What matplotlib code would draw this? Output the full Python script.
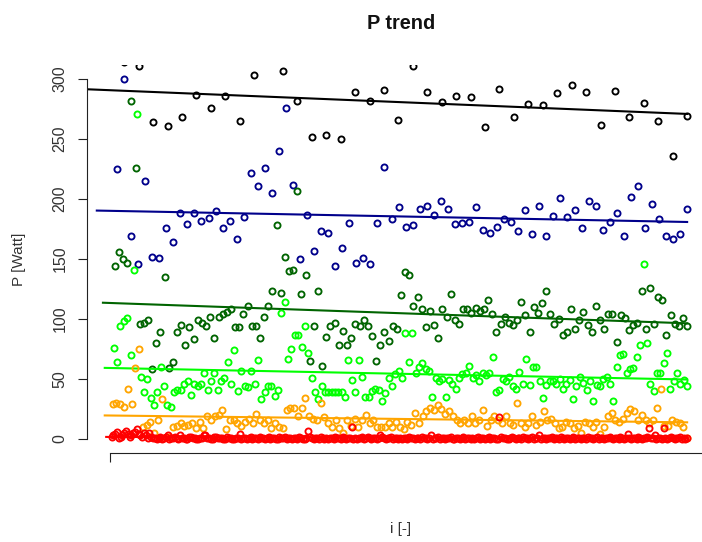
import numpy as np
import matplotlib
matplotlib.use("Agg")
import matplotlib.pyplot as plt

plt.rcParams['font.family'] = ['Liberation Sans', 'DejaVu Sans']

title = "P trend"
xlabel = "i [-]"
ylabel = "P [Watt]"
yticks = [0, 50, 100, 150, 200, 250, 300]

black_vals = [316, 314, 311, 264, 261, 268, 287, 276, 286, 265, 303, 318, 307, 282,
              252, 253, 250, 289, 282, 291, 266, 311, 289, 281, 286, 285, 260, 292,
              268, 279, 278, 288, 295, 289, 262, 290, 268, 280, 265, 236, 269]

navy_vals = [225, 300, 169, 146, 215, 152, 151, 176, 164, 188, 179, 188, 182, 184,
             190, 176, 182, 167, 185, 222, 211, 226, 205, 240, 276, 212, 150, 187,
             157, 173, 172, 144, 159, 180, 147, 151, 146, 180, 227, 183, 193, 177,
             178, 192, 194, 187, 198, 192, 179, 180, 181, 193, 174, 172, 177, 183,
             181, 173, 191, 171, 194, 169, 186, 201, 185, 191, 176, 198, 194, 174,
             181, 188, 169, 202, 211, 176, 196, 183, 169, 167, 171, 192]

dgreen_vals = [144, 156, 150, 147, 282, 226, 96, 97, 99, 58, 80, 89, 135, 59, 64, 89,
               95, 78, 93, 83, 99, 97, 94, 102, 84, 102, 104, 106, 108, 93, 93, 104,
               111, 94, 94, 84, 102, 111, 123, 178, 122, 152, 140, 141, 207, 121, 137,
               65, 94, 123, 61, 85, 94, 97, 78, 90, 78, 84, 96, 94, 99, 94, 86, 65, 78,
               89, 82, 94, 92, 120, 139, 137, 111, 118, 108, 93, 107, 95, 84, 108, 102,
               121, 99, 96, 108, 108, 105, 109, 107, 108, 116, 104, 89, 96, 102, 97, 95,
               99, 114, 103, 89, 110, 105, 113, 123, 104, 96, 100, 87, 89, 108, 92, 99,
               106, 95, 89, 111, 99, 92, 104, 104, 81, 103, 101, 91, 95, 97, 123, 92,
               126, 96, 118, 116, 87, 103, 96, 94, 101, 94]

lgreen_vals = [76, 64, 94, 98, 101, 70, 141, 271, 52, 39, 50, 34, 28, 39, 60, 44, 28,
               27, 39, 41, 41, 46, 48, 37, 46, 44, 46, 55, 41, 48, 55, 41, 48, 51, 64,
               46, 74, 40, 57, 44, 43, 57, 46, 66, 33, 39, 44, 44, 36, 41, 105, 114, 67,
               75, 87, 87, 77, 94, 72, 51, 39, 33, 44, 39, 39, 39, 39, 39, 39, 35, 66,
               49, 39, 66, 52, 35, 35, 40, 42, 41, 32, 38, 51, 44, 54, 57, 51, 88, 64,
               88, 55, 60, 63, 58, 57, 35, 51, 48, 50, 35, 49, 46, 42, 51, 54, 55, 61,
               51, 53, 48, 55, 53, 55, 68, 39, 41, 50, 48, 52, 44, 42, 56, 46, 67, 45,
               60, 60, 48, 34, 45, 48, 48, 46, 50, 42, 46, 49, 33, 44, 52, 47, 41, 48,
               32, 45, 44, 50, 52, 46, 32, 60, 70, 71, 55, 58, 59, 68, 78, 146, 80, 46,
               40, 55, 55, 63, 72, 42, 48, 55, 46, 49, 44]

orange_vals = [29, 30, 29, 27, 42, 29, 59, 75, 10, 12, 14, 5, 16, 33, 2, 2, 10, 11, 13,
               11, 12, 13, 9, 14, 9, 19, 16, 19, 20, 24, 8, 16, 16, 13, 11, 14, 17, 13,
               21, 16, 13, 16, 9, 13, 10, 9, 24, 26, 26, 19, 26, 34, 19, 17, 16, 30, 18,
               13, 10, 16, 9, 5, 16, 11, 17, 10, 16, 20, 13, 16, 10, 10, 10, 13, 10, 14,
               10, 8, 14, 12, 22, 13, 19, 23, 26, 24, 28, 25, 21, 23, 19, 16, 13, 16, 13,
               19, 13, 16, 24, 11, 16, 19, 16, 13, 19, 13, 12, 30, 13, 10, 13, 19, 12,
               14, 23, 16, 17, 13, 9, 10, 14, 13, 9, 11, 5, 14, 13, 10, 14, 4, 10, 19,
               22, 16, 14, 17, 22, 25, 23, 16, 20, 16, 13, 16, 26, 42, 11, 11, 16, 14,
               13, 10, 1]

red_vals = [2, 3, 4, 6, 1, 2, 3, 5, 7, 4, 2, 3, 5, 6, 8, 4, 3, 2, 5, 3,
            1, 5, 2, 1, 1, 0, 1, 2, 0, 1, 2, 3, 0, 1, 1, 2, 1, 0, 3, 1,
            1, 0, 0, 2, 2, 1, 1, 0, 0, 1, 1, 3, 3, 1, 1, 0, 0, 2, 2, 1,
            1, 1, 0, 0, 2, 1, 1, 0, 0, 1, 1, 4, 0, 1, 1, 0, 1, 2, 0, 1,
            1, 0, 2, 1, 1, 0, 1, 2, 0, 1, 1, 0, 0, 2, 1, 1, 2, 0, 1, 1,
            0, 1, 1, 0, 2, 1, 0, 0, 1, 7, 2, 1, 0, 1, 1, 0, 2, 1, 0, 1,
            0, 1, 1, 0, 2, 1, 1, 0, 2, 1, 0, 1, 1, 10, 0, 1, 0, 1, 1, 2,
            0, 1, 2, 1, 0, 1, 1, 0, 1, 3, 2, 1, 0, 1, 1, 2, 0, 1, 1, 0,
            1, 0, 1, 1, 0, 2, 1, 1, 0, 1, 1, 0, 2, 1, 1, 0, 1, 3, 0, 1,
            1, 2, 0, 1, 1, 0, 1, 1, 2, 0, 0, 1, 1, 0, 1, 2, 0, 1, 1, 0,
            1, 0, 1, 2, 0, 1, 1, 0, 1, 2, 0, 1, 1, 0, 0, 18, 2, 1, 1, 0,
            0, 1, 2, 1, 0, 1, 1, 0, 2, 1, 1, 0, 1, 2, 0, 1, 1, 3, 0, 1,
            1, 0, 1, 1, 2, 0, 1, 1, 0, 2, 1, 0, 1, 1, 0, 1, 2, 0, 1, 1,
            0, 1, 1, 0, 2, 1, 1, 0, 1, 2, 0, 1, 1, 0, 1, 1, 2, 1, 0, 1,
            1, 0, 2, 1, 0, 1, 4, 1, 0, 1, 1, 0, 2, 1, 0, 1, 1, 2, 9, 1,
            1, 3, 0, 1, 1, 0, 9, 1, 0, 1, 2, 1, 0, 1, 1, 2, 0, 1, 0, 1]

series = [
    (black_vals, np.arange(0, 161, 4), "#000000", -6.4),
    (navy_vals, np.linspace(2, 160, len(navy_vals)), "#00008B", -3.6),
    (dgreen_vals, np.linspace(1.4, 160, len(dgreen_vals)), "#006400", -1.9),
    (lgreen_vals, np.linspace(1.1, 160, len(lgreen_vals)), "#00FF00", -1.4),
    (orange_vals, np.linspace(0.8, 160, len(orange_vals)), "#FFA500", -1.4),
    (red_vals, np.linspace(0.5, 160, len(red_vals)), "#FF0000", -1.0),
]

W, H = 702, 542
fig = plt.figure(figsize=(W / 100, H / 100), dpi=100)
left_px, right_px, top_px, bot_px = 86.7, 716.0, 64.6, 453.4
ax = fig.add_axes([left_px / W, 1 - bot_px / H, (right_px - left_px) / W, (bot_px - top_px) / H])

for vals, x, col, x0 in series:
    y = np.array(vals, dtype=float)
    ax.plot(x, y, linestyle='none', marker='o', markersize=4.4, markerfacecolor='none',
            markeredgecolor=col, markeredgewidth=1.35, clip_on=True)
    slope, icpt = np.polyfit(x, y, 1)
    xl = np.array([x0, 160.0])
    ax.plot(xl, icpt + slope * xl, color=col, linewidth=1.5)

ax.set_xlim(-6.4, 166.4)
ax.set_ylim(-12, 312)

for s in ['top', 'right']:
    ax.spines[s].set_visible(False)
ax.spines['left'].set_bounds(0, 300)
ax.spines['bottom'].set_bounds(0, 168)
for s in ['left', 'bottom']:
    ax.spines[s].set_color('#222222')
    ax.spines[s].set_linewidth(0.8)

ax.set_yticks(yticks)
ax.set_yticklabels([str(v) for v in yticks], rotation=90, va='center')
ax.set_xticks([0, 168])
ax.set_xticklabels(['', ''])
ax.tick_params(axis='both', direction='out', length=6.5, width=0.8, color='#222222',
               labelsize=11.5, labelcolor='#333333', pad=7.5)

fig.text(401 / W, 1 - 23.5 / H, title, ha='center', va='center', fontsize=14.4,
         fontweight='bold', color='#111111')
fig.text(401 / W, 1 - 529 / H, xlabel, ha='center', va='center', fontsize=11,
         color='#333333')
fig.text(19 / W, 1 - 259 / H, ylabel, ha='center', va='center', fontsize=11,
         rotation=90, color='#333333')

fig.savefig('out.png', dpi=100)
